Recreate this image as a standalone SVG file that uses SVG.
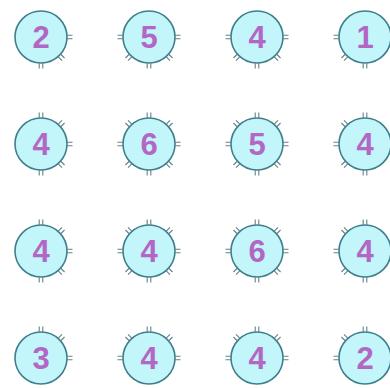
<svg xmlns="http://www.w3.org/2000/svg" xmlns:xlink="http://www.w3.org/1999/xlink" width="390" height="388" viewBox="0 0 390 388">
<style>
.c{fill:#c2f6fb;stroke:#3f7f8c;stroke-width:1.6}
.t{font-family:"Liberation Sans",Arial,sans-serif;font-weight:bold;font-size:31px;fill:#b267c4;text-anchor:middle}
.s{stroke:#62828a;stroke-width:1.1;fill:none}
</style>
<defs>
<path id="st" class="s" d="M25.5,-1.8H31.5M25.5,1.8H31.5"/>
</defs>
<rect width="390" height="388" fill="#ffffff"/>
<g id="connectors"></g>
<g id="n11" transform="translate(41,37)"><circle class="c" r="26"/><text class="t" y="11">2</text><use href="#st"/><use href="#st" transform="rotate(45)"/><use href="#st" transform="rotate(90)"/></g>
<g id="n12" transform="translate(149,37)"><circle class="c" r="26"/><text class="t" y="11">5</text><use href="#st"/><use href="#st" transform="rotate(45)"/><use href="#st" transform="rotate(90)"/><use href="#st" transform="rotate(135)"/><use href="#st" transform="rotate(180)"/></g>
<g id="n13" transform="translate(257,37)"><circle class="c" r="26"/><text class="t" y="11">4</text><use href="#st"/><use href="#st" transform="rotate(45)"/><use href="#st" transform="rotate(90)"/><use href="#st" transform="rotate(135)"/><use href="#st" transform="rotate(180)"/></g>
<g id="n14" transform="translate(365,37)"><circle class="c" r="26"/><text class="t" y="11">1</text><use href="#st" transform="rotate(90)"/><use href="#st" transform="rotate(135)"/><use href="#st" transform="rotate(180)"/></g>
<g id="n21" transform="translate(41,144)"><circle class="c" r="26"/><text class="t" y="11">4</text><use href="#st" transform="rotate(270)"/><use href="#st" transform="rotate(315)"/><use href="#st"/><use href="#st" transform="rotate(45)"/><use href="#st" transform="rotate(90)"/></g>
<g id="n22" transform="translate(149,144)"><circle class="c" r="26"/><text class="t" y="11">6</text><use href="#st"/><use href="#st" transform="rotate(45)"/><use href="#st" transform="rotate(90)"/><use href="#st" transform="rotate(135)"/><use href="#st" transform="rotate(180)"/><use href="#st" transform="rotate(225)"/><use href="#st" transform="rotate(270)"/><use href="#st" transform="rotate(315)"/></g>
<g id="n23" transform="translate(257,144)"><circle class="c" r="26"/><text class="t" y="11">5</text><use href="#st"/><use href="#st" transform="rotate(45)"/><use href="#st" transform="rotate(90)"/><use href="#st" transform="rotate(135)"/><use href="#st" transform="rotate(180)"/><use href="#st" transform="rotate(225)"/><use href="#st" transform="rotate(270)"/><use href="#st" transform="rotate(315)"/></g>
<g id="n24" transform="translate(365,144)"><circle class="c" r="26"/><text class="t" y="11">4</text><use href="#st" transform="rotate(90)"/><use href="#st" transform="rotate(135)"/><use href="#st" transform="rotate(180)"/><use href="#st" transform="rotate(225)"/><use href="#st" transform="rotate(270)"/></g>
<g id="n31" transform="translate(41,251)"><circle class="c" r="26"/><text class="t" y="11">4</text><use href="#st" transform="rotate(270)"/><use href="#st" transform="rotate(315)"/><use href="#st"/><use href="#st" transform="rotate(45)"/><use href="#st" transform="rotate(90)"/></g>
<g id="n32" transform="translate(149,251)"><circle class="c" r="26"/><text class="t" y="11">4</text><use href="#st"/><use href="#st" transform="rotate(45)"/><use href="#st" transform="rotate(90)"/><use href="#st" transform="rotate(135)"/><use href="#st" transform="rotate(180)"/><use href="#st" transform="rotate(225)"/><use href="#st" transform="rotate(270)"/><use href="#st" transform="rotate(315)"/></g>
<g id="n33" transform="translate(257,251)"><circle class="c" r="26"/><text class="t" y="11">6</text><use href="#st"/><use href="#st" transform="rotate(45)"/><use href="#st" transform="rotate(90)"/><use href="#st" transform="rotate(135)"/><use href="#st" transform="rotate(180)"/><use href="#st" transform="rotate(225)"/><use href="#st" transform="rotate(270)"/><use href="#st" transform="rotate(315)"/></g>
<g id="n34" transform="translate(365,251)"><circle class="c" r="26"/><text class="t" y="11">4</text><use href="#st" transform="rotate(90)"/><use href="#st" transform="rotate(135)"/><use href="#st" transform="rotate(180)"/><use href="#st" transform="rotate(225)"/><use href="#st" transform="rotate(270)"/></g>
<g id="n41" transform="translate(41,358)"><circle class="c" r="26"/><text class="t" y="11">3</text><use href="#st" transform="rotate(270)"/><use href="#st" transform="rotate(315)"/><use href="#st"/></g>
<g id="n42" transform="translate(149,358)"><circle class="c" r="26"/><text class="t" y="11">4</text><use href="#st"/><use href="#st" transform="rotate(180)"/><use href="#st" transform="rotate(225)"/><use href="#st" transform="rotate(270)"/><use href="#st" transform="rotate(315)"/></g>
<g id="n43" transform="translate(257,358)"><circle class="c" r="26"/><text class="t" y="11">4</text><use href="#st"/><use href="#st" transform="rotate(180)"/><use href="#st" transform="rotate(225)"/><use href="#st" transform="rotate(270)"/><use href="#st" transform="rotate(315)"/></g>
<g id="n44" transform="translate(365,358)"><circle class="c" r="26"/><text class="t" y="11">2</text><use href="#st" transform="rotate(180)"/><use href="#st" transform="rotate(225)"/><use href="#st" transform="rotate(270)"/></g>
</svg>
